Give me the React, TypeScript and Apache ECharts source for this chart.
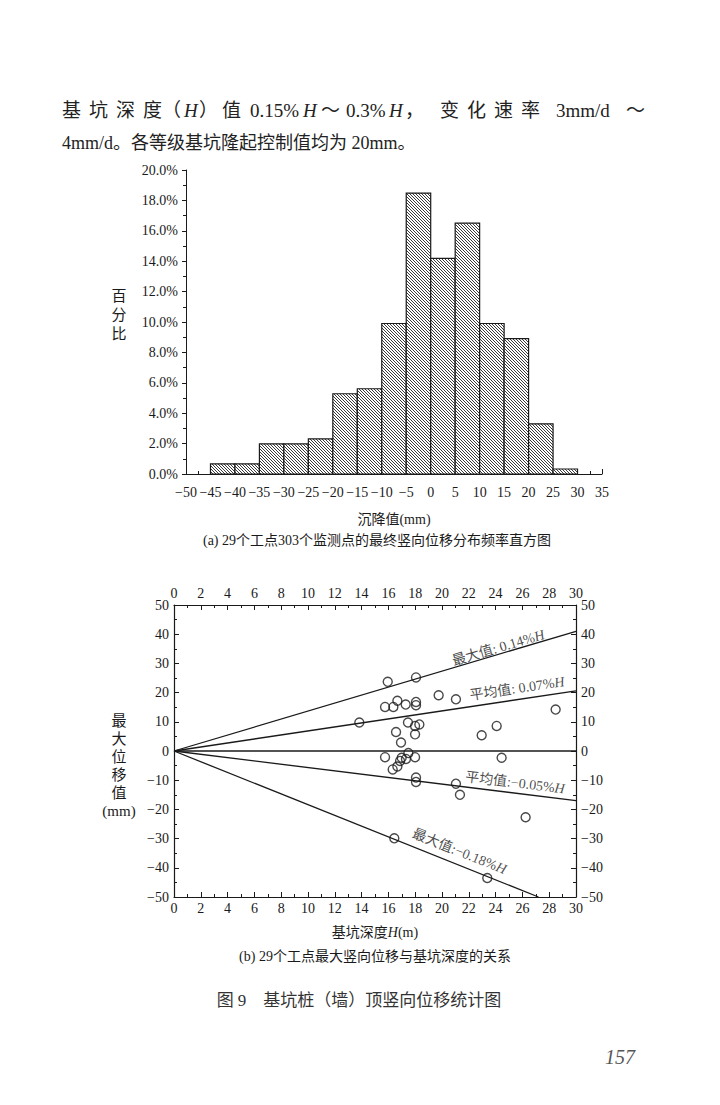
import React, { useEffect, useRef } from 'react';
import * as echarts from 'echarts';

// ---------- Histogram (a) ----------
const binStarts = [-45, -40, -35, -30, -25, -20, -15, -10, -5, 0, 5, 10, 15, 20, 25];
const binWidth = 5;
const binPercents = [0.66, 0.66, 1.98, 1.98, 2.31, 5.28, 5.61, 9.9, 18.48, 14.19, 16.5, 9.9, 8.91, 3.3, 0.33];

// ---------- Scatter (b) ----------
const depthH = [15.95, 18.06, 19.75, 21.04, 15.75, 16.37, 16.67, 17.29, 18.06, 18.06, 13.83, 17.46, 17.99, 18.31, 17.99, 16.57, 16.94, 15.75, 17.49, 16.99, 17.31, 17.99, 16.87, 16.67, 16.32, 18.06, 18.06, 21.04, 21.34, 22.96, 24.08, 28.48, 24.45, 26.24, 16.44, 23.38];
const maxDisp = [23.7, 25.2, 19.1, 17.7, 15.1, 15.1, 17.2, 15.9, 16.8, 15.7, 9.75, 9.75, 8.6, 9.1, 5.7, 6.5, 2.9, -2.1, -0.7, -2.3, -2.7, -2.1, -3.4, -5.3, -6.3, -9.1, -10.6, -11.2, -15.0, 5.4, 8.6, 14.2, -2.3, -22.7, -29.9, -43.5];

const lineMaxUp = [[0, 0], [30, 41]];
const lineMeanUp = [[0, 0], [30, 20.6]];
const lineZero = [[0, 0], [30, 0]];
const lineMeanDown = [[0, 0], [30, -17]];
const lineMaxDown = [[0, 0], [27.2, -50]];

const lineLabels = [
  { text: '最大值: 0.14%{i|H}', pos: [24.2, 35.3], rotate: 16.5 },
  { text: '平均值: 0.07%{i|H}', pos: [25.6, 21.4], rotate: 8.5 },
  { text: '平均值:−0.05%{i|H}', pos: [25.45, -10.9], rotate: -7 },
  { text: '最大值:−0.18%{i|H}', pos: [21.3, -34.4], rotate: -21.8 },
];

// Paragraph above the chart (first line is justified in the book)
const paraLine1: [string, number, boolean][] = [
  ['基', 62, false], ['坑', 89, false], ['深', 116, false], ['度', 143, false],
  ['（', 162, false], ['H', 184, true], ['）', 199, false], ['值', 222, false],
  ['0.15%', 250, false], ['H', 303, true], ['～', 321, false],
  ['0.3%', 346, false], ['H', 389, true], ['，', 405, false],
  ['变', 440, false], ['化', 467, false], ['速', 494, false], ['率', 521, false],
  ['3mm/d', 556, false], ['～', 626, false],
];
const paraLine2 = '4mm/d。各等级基坑隆起控制值均为 20mm。';

const SERIF = "'Liberation Serif', 'Noto Sans CJK SC', serif";
const INK = '#1a1a1a';
const minus = (v: number) => String(v).replace('-', '−');

export default function App() {
  const ref = useRef<HTMLDivElement>(null);
  useEffect(() => {
    document.body.style.margin = '0';
    if (!ref.current) return;
    const chart = echarts.init(ref.current, undefined, { renderer: 'svg' });

    const cv = document.createElement('canvas');
    cv.width = 3; cv.height = 3;
    const ctx = cv.getContext('2d')!;
    ctx.fillStyle = '#ffffff';
    ctx.fillRect(0, 0, 3, 3);
    ctx.fillStyle = '#3a3a3a';
    for (let i = 0; i < 3; i++) ctx.fillRect(i, i, 1, 1);
    const hatch: any = { image: cv, repeat: 'repeat' };

    const histData = binStarts.map((s, i) => [s, s + binWidth, binPercents[i]]);
    const scatterData = depthH.map((h, i) => [h, maxDisp[i]]);

    const axisFont = { fontFamily: SERIF, color: INK };
    const lineSeries = (data: number[][]) => ({
      type: 'line', xAxisIndex: 1, yAxisIndex: 1, data, symbol: 'none',
      lineStyle: { color: INK, width: 1.3 }, silent: true,
    });

    const paraGraphics = paraLine1.map(([t, x, it]) => ({
      type: 'text', x, y: 110,
      style: {
        text: t, fontFamily: SERIF, fontSize: 19, fontStyle: it ? 'italic' : 'normal',
        fill: '#222', verticalAlign: 'middle', align: 'left',
      },
    }));

    const option: any = {
      animation: false,
      backgroundColor: '#ffffff',
      grid: [
        { left: 186, top: 170, width: 416, height: 304 },
        { left: 174, top: 605, width: 402, height: 292 },
      ],
      xAxis: [
        {
          gridIndex: 0, type: 'value', min: -50, max: 35, interval: 5,
          axisLine: { onZero: false, lineStyle: { color: INK, width: 1 } },
          axisTick: { inside: true, length: 5, lineStyle: { color: INK } },
          minorTick: { show: true, splitNumber: 2, length: 3, lineStyle: { color: INK } },
          splitLine: { show: false },
          axisLabel: { ...axisFont, fontSize: 14, margin: 11, formatter: (v: number) => minus(v) },
          name: '沉降值(mm)', nameLocation: 'middle', nameGap: 38,
          nameTextStyle: { ...axisFont, fontSize: 14 },
        },
        {
          gridIndex: 1, type: 'value', min: 0, max: 30, interval: 2,
          axisLine: { onZero: false, lineStyle: { color: INK, width: 1.2 } },
          axisTick: { inside: true, length: 5, lineStyle: { color: INK } },
          minorTick: { show: true, splitNumber: 2, length: 3, lineStyle: { color: INK } },
          splitLine: { show: false },
          axisLabel: { ...axisFont, fontSize: 14, margin: 4 },
          name: '基坑深度{i|H}(m)', nameLocation: 'middle', nameGap: 28,
          nameTextStyle: { ...axisFont, fontSize: 14, rich: { i: { fontFamily: SERIF, fontSize: 14, fontStyle: 'italic', color: INK } } },
        },
        {
          gridIndex: 1, type: 'value', min: 0, max: 30, interval: 2, position: 'top',
          axisLine: { onZero: false, lineStyle: { color: INK, width: 1.2 } },
          axisTick: { inside: true, length: 5, lineStyle: { color: INK } },
          minorTick: { show: true, splitNumber: 2, length: 3, lineStyle: { color: INK } },
          splitLine: { show: false },
          axisLabel: { ...axisFont, fontSize: 14, margin: 5 },
        },
      ],
      yAxis: [
        {
          gridIndex: 0, type: 'value', min: 0, max: 20, interval: 2,
          axisLine: { show: true, onZero: false, lineStyle: { color: INK, width: 1 } },
          axisTick: { show: true, inside: false, length: 4, lineStyle: { color: INK } },
          minorTick: { show: true, splitNumber: 2, length: 3, lineStyle: { color: INK } },
          splitLine: { show: false },
          axisLabel: { ...axisFont, fontSize: 14, margin: 8, formatter: (v: number) => v.toFixed(1) + '%' },
        },
        {
          gridIndex: 1, type: 'value', min: -50, max: 50, interval: 10,
          axisLine: { show: true, onZero: false, lineStyle: { color: INK, width: 1.2 } },
          axisTick: { show: true, inside: true, length: 5, lineStyle: { color: INK } },
          minorTick: { show: true, splitNumber: 2, length: 3, lineStyle: { color: INK } },
          splitLine: { show: false },
          axisLabel: { ...axisFont, fontSize: 14, margin: 5, formatter: (v: number) => minus(v) },
        },
        {
          gridIndex: 1, type: 'value', min: -50, max: 50, interval: 10, position: 'right',
          axisLine: { show: true, onZero: false, lineStyle: { color: INK, width: 1.2 } },
          axisTick: { show: true, inside: true, length: 5, lineStyle: { color: INK } },
          minorTick: { show: true, splitNumber: 2, length: 3, lineStyle: { color: INK } },
          splitLine: { show: false },
          axisLabel: { ...axisFont, fontSize: 14, margin: 5, formatter: (v: number) => minus(v) },
        },
      ],
      series: [
        {
          type: 'custom', xAxisIndex: 0, yAxisIndex: 0, data: histData,
          encode: { x: [0, 1], y: 2 },
          renderItem: (_p: any, api: any) => {
            const a = api.coord([api.value(0), api.value(2)]);
            const b = api.coord([api.value(1), 0]);
            return {
              type: 'rect',
              shape: { x: a[0], y: a[1], width: b[0] - a[0], height: b[1] - a[1] },
              style: { fill: hatch, stroke: INK, lineWidth: 1.2 },
            };
          },
        },
        lineSeries(lineMaxUp),
        lineSeries(lineMeanUp),
        lineSeries(lineZero),
        lineSeries(lineMeanDown),
        lineSeries(lineMaxDown),
        {
          type: 'scatter', xAxisIndex: 1, yAxisIndex: 1, data: scatterData,
          symbol: 'circle', symbolSize: 9,
          itemStyle: { color: 'rgba(255,255,255,0)', borderColor: INK, borderWidth: 1.4 },
        },
        {
          type: 'scatter', xAxisIndex: 1, yAxisIndex: 1, symbolSize: 0, silent: true,
          data: lineLabels.map((l) => ({
            value: l.pos,
            label: {
              show: true, position: 'inside', rotate: l.rotate, formatter: l.text,
              fontFamily: SERIF, fontSize: 14, color: INK,
              rich: { i: { fontFamily: SERIF, fontSize: 14, fontStyle: 'italic', color: INK } },
            },
          })),
        },
      ],
      graphic: [
        ...paraGraphics,
        {
          type: 'text', x: 62, y: 143,
          style: { text: paraLine2, fontFamily: SERIF, fontSize: 18, fill: '#222', verticalAlign: 'middle' },
        },
        {
          type: 'text', x: 119, y: 286, style: { text: '百\n分\n比', fontFamily: SERIF, fontSize: 15, lineHeight: 19, fill: INK, align: 'center', verticalAlign: 'top' },
        },
        {
          type: 'text', x: 377, y: 540, style: { text: '(a) 29个工点303个监测点的最终竖向位移分布频率直方图', fontFamily: SERIF, fontSize: 14, fill: INK, align: 'center', verticalAlign: 'middle' },
        },
        {
          type: 'text', x: 119, y: 712, style: { text: '最\n大\n位\n移\n值\n(mm)', fontFamily: SERIF, fontSize: 15, lineHeight: 18, fill: INK, align: 'center', verticalAlign: 'top' },
        },
        {
          type: 'text', x: 375, y: 956, style: { text: '(b) 29个工点最大竖向位移与基坑深度的关系', fontFamily: SERIF, fontSize: 14, fill: INK, align: 'center', verticalAlign: 'middle' },
        },
        {
          type: 'text', x: 359, y: 1000, style: { text: '图 9    基坑桩（墙）顶竖向位移统计图', fontFamily: SERIF, fontSize: 17, fill: '#333', align: 'center', verticalAlign: 'middle' },
        },
        {
          type: 'text', x: 620, y: 1057, style: { text: '157', fontFamily: SERIF, fontSize: 20, fontStyle: 'italic', fill: '#555', align: 'center', verticalAlign: 'middle' },
        },
      ],
    };
    chart.setOption(option);
    return () => chart.dispose();
  }, []);
  return <div ref={ref} style={{ width: 720, height: 1105 }} />;
}
